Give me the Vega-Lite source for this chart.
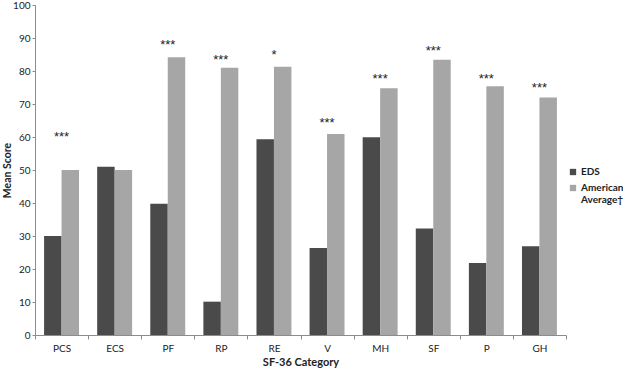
{
  "$schema": "https://vega.github.io/schema/vega-lite/v6.json",
  "autosize": {"type": "none"},
  "padding": {"left": 35, "top": 5, "right": 57, "bottom": 34},
  "width": 531,
  "height": 330,
  "background": "white",
  "config": {
    "font": "Lato",
    "view": {"stroke": null},
    "axis": {"labelFont": "Lato", "titleFont": "Lato", "labelColor": "#222", "titleColor": "#222", "domainColor": "#8c8c8c", "tickColor": "#8c8c8c", "grid": false}
  },
  "datasets": {
    "bars": [
      {"cat": "PCS", "group": "EDS", "value": 30.0},
      {"cat": "PCS", "group": "American Average†", "value": 50.0},
      {"cat": "ECS", "group": "EDS", "value": 51.0},
      {"cat": "ECS", "group": "American Average†", "value": 50.0},
      {"cat": "PF", "group": "EDS", "value": 39.8},
      {"cat": "PF", "group": "American Average†", "value": 84.2},
      {"cat": "RP", "group": "EDS", "value": 10.1},
      {"cat": "RP", "group": "American Average†", "value": 81.0},
      {"cat": "RE", "group": "EDS", "value": 59.3},
      {"cat": "RE", "group": "American Average†", "value": 81.3},
      {"cat": "V", "group": "EDS", "value": 26.4},
      {"cat": "V", "group": "American Average†", "value": 60.9},
      {"cat": "MH", "group": "EDS", "value": 59.9},
      {"cat": "MH", "group": "American Average†", "value": 74.8},
      {"cat": "SF", "group": "EDS", "value": 32.3},
      {"cat": "SF", "group": "American Average†", "value": 83.4},
      {"cat": "P", "group": "EDS", "value": 21.8},
      {"cat": "P", "group": "American Average†", "value": 75.4},
      {"cat": "GH", "group": "EDS", "value": 26.9},
      {"cat": "GH", "group": "American Average†", "value": 72.0}
    ],
    "sig": [
      {"cat": "PCS", "sig": "***", "value": 60.0},
      {"cat": "PF", "sig": "***", "value": 88.0},
      {"cat": "RP", "sig": "***", "value": 83.4},
      {"cat": "RE", "sig": "*", "value": 84.8},
      {"cat": "V", "sig": "***", "value": 64.3},
      {"cat": "MH", "sig": "***", "value": 77.7},
      {"cat": "SF", "sig": "***", "value": 86.2},
      {"cat": "P", "sig": "***", "value": 77.7},
      {"cat": "GH", "sig": "***", "value": 75.0}
    ]
  },
  "encoding": {
    "x": {
      "field": "cat", "type": "nominal", "sort": ["PCS", "ECS", "PF", "RP", "RE", "V", "MH", "SF", "P", "GH"],
      "scale": {"paddingInner": 0, "paddingOuter": 0},
      "axis": {"title": "SF-36 Category", "titleFontWeight": "bold", "titleFontSize": 11, "titlePadding": 3, "labelAngle": 0, "labelFontSize": 10, "labelPadding": 4, "tickBand": "extent", "tickSize": 4}
    },
    "y": {
      "field": "value", "type": "quantitative",
      "scale": {"domain": [0, 100], "nice": false},
      "axis": {"title": "Mean Score", "titleFontWeight": "bold", "titleFontSize": 10.5, "titlePadding": 0, "values": [0, 10, 20, 30, 40, 50, 60, 70, 80, 90, 100], "labelOverlap": false, "labelFontSize": 10, "tickSize": 3, "labelPadding": 2}
    }
  },
  "layer": [
    {
      "data": {"name": "bars"},
      "mark": {"type": "bar"},
      "encoding": {
        "xOffset": {"field": "group", "type": "nominal", "sort": ["EDS", "American Average†"], "scale": {"paddingInner": 0, "paddingOuter": 0.52}},
        "color": {
          "field": "group", "type": "nominal", "sort": ["EDS", "American Average†"],
          "scale": {"domain": ["EDS", "American Average†"], "range": ["#4a4a4a", "#a6a6a6"]},
          "legend": {
            "title": null, "orient": "none", "legendX": 533, "legendY": 162,
            "symbolType": "square", "symbolSize": 40, "symbolStrokeWidth": 0,
            "labelFontWeight": "bold", "labelFontSize": 10, "labelColor": "#222", "labelOffset": 3, "labelLimit": 100,
            "rowPadding": 6,
            "labelExpr": "datum.label == 'American Average†' ? ['American', 'Average†'] : datum.label"
          }
        }
      }
    },
    {
      "data": {"name": "sig"},
      "mark": {"type": "text", "fontSize": 13, "font": "Liberation Sans", "color": "#222", "baseline": "middle"},
      "encoding": {
        "text": {"field": "sig"}
      }
    }
  ]
}
